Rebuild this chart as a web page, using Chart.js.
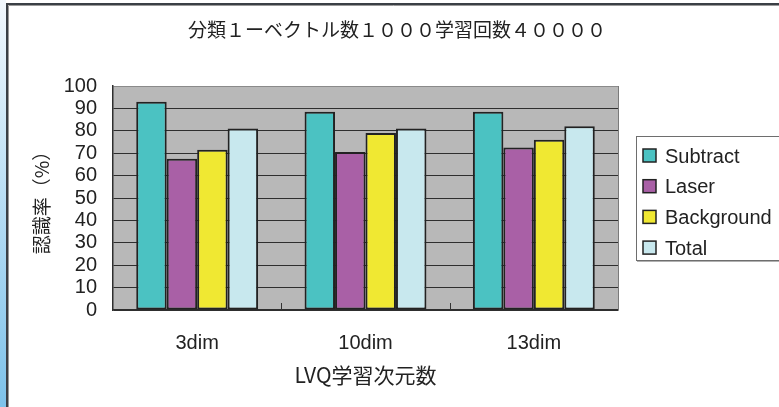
<!DOCTYPE html>
<html>
<head>
<meta charset="utf-8">
<script src="https://cdn.jsdelivr.net/npm/chart.js@4/dist/chart.umd.min.js"></script>
<style>
  html, body { margin: 0; padding: 0; background: #fff; }
  #wrap { width: 779px; height: 407px; }
</style>
</head>
<body>
<div id="wrap"><canvas id="chart" width="779" height="407"></canvas></div>
<script>
// recognition rate by LVQ dimension
var categories = ["3dim", "10dim", "13dim"];
var subtractVals = [93, 88.5, 88.5];
var laserVals = [67.5, 70.5, 72.5];
var backgroundVals = [71.5, 79, 76];
var totalVals = [81, 81, 82];
var yTicks = [0, 10, 20, 30, 40, 50, 60, 70, 80, 90, 100];

var chartTitle = "分類１ーベクトル数１０００学習回数４００００";
var xTitle = "LVQ学習次元数";
var yTitle = "認識率（%）";

var LATIN = "'Liberation Sans', Arial, 'Noto Sans CJK JP', sans-serif";
var CJK = "'Noto Sans CJK JP', 'Liberation Sans', sans-serif";
var INK = "#222";

// frame, blue edge strip, grey plot background
var backdrop = {
    id: "backdrop",
    beforeDraw: function(chart) {
        var c = chart.ctx, a = chart.chartArea;
        c.save();
        c.fillStyle = "#fff";
        c.fillRect(0, 0, chart.width, chart.height);

        var g = c.createLinearGradient(0, 0, 0, chart.height);
        g.addColorStop(0, "#f2f8fd");
        g.addColorStop(1, "#7dc2ea");
        c.fillStyle = g;
        c.fillRect(0, 0, 6, chart.height);

        c.strokeStyle = "#3a3f45";
        c.lineWidth = 2;
        c.beginPath();
        c.moveTo(7, chart.height);
        c.lineTo(7, 4);
        c.lineTo(chart.width, 4);
        c.stroke();
        c.strokeStyle = "#9a9a9a";
        c.lineWidth = 1;
        c.beginPath();
        c.moveTo(8.5, chart.height);
        c.lineTo(8.5, 5.5);
        c.lineTo(chart.width, 5.5);
        c.stroke();

        c.fillStyle = "#b8b8b8";
        c.fillRect(a.left, a.top, a.right - a.left, a.bottom - a.top);
        c.restore();
    },
    afterDatasetsDraw: function(chart) {
        var c = chart.ctx, a = chart.chartArea, xs = chart.scales.x;
        c.save();
        // right edge of the plot
        c.strokeStyle = "#7a7a7a";
        c.lineWidth = 1;
        c.beginPath();
        c.moveTo(a.right + 0.5, a.top);
        c.lineTo(a.right + 0.5, a.bottom);
        c.stroke();
        // short inside ticks between categories
        c.strokeStyle = "#333";
        for (var i = 0; i < categories.length - 1; i++) {
            var x = Math.round(xs.getPixelForValue(i + 0.5)) + 0.5;
            c.beginPath();
            c.moveTo(x, a.bottom);
            c.lineTo(x, a.bottom - 7);
            c.stroke();
        }
        c.restore();
    },
    afterDraw: function(chart) {
        var c = chart.ctx;
        c.save();
        // title
        c.fillStyle = INK;
        c.font = "19px " + CJK;
        c.textAlign = "center";
        c.textBaseline = "middle";
        c.fillText(chartTitle, 397, 30);

        // legend box
        c.strokeStyle = "#6e6e6e";
        c.lineWidth = 1;
        c.strokeRect(636.5, 136.5, 200, 124);
        c.strokeStyle = "#b0b0b0";
        c.beginPath();
        c.moveTo(637, 261.5);
        c.lineTo(chart.width, 261.5);
        c.stroke();

        c.font = "20px " + LATIN;
        c.textAlign = "left";
        chart.data.datasets.forEach(function(ds, i) {
            var y = 156 + i * 30.7;
            c.fillStyle = ds.backgroundColor;
            c.fillRect(643, y - 7, 13, 13);
            c.strokeStyle = "#222";
            c.lineWidth = 1.5;
            c.strokeRect(643, y - 7, 13, 13);
            c.fillStyle = INK;
            c.fillText(ds.label, 665, y + 1);
        });
        c.restore();
    }
};

var common = {
    borderColor: "#222",
    borderWidth: 2,
    borderSkipped: false,
    barPercentage: 1,
    categoryPercentage: 0.724
};

new Chart(document.getElementById("chart"), {
    type: "bar",
    data: {
        labels: categories,
        datasets: [
            Object.assign({ label: "Subtract", data: subtractVals, backgroundColor: "#4bc2c2" }, common),
            Object.assign({ label: "Laser", data: laserVals, backgroundColor: "#a960a6" }, common),
            Object.assign({ label: "Background", data: backgroundVals, backgroundColor: "#f0e832" }, common),
            Object.assign({ label: "Total", data: totalVals, backgroundColor: "#c8e8ee" }, common)
        ]
    },
    options: {
        responsive: false,
        animation: false,
        layout: { padding: { top: 86, right: 161, left: 0, bottom: 0 } },
        plugins: {
            legend: { display: false },
            title: { display: false },
            tooltip: { enabled: false }
        },
        scales: {
            x: {
                afterFit: function(s) { s.height = 97; },
                grid: { display: false, drawTicks: false },
                border: { display: true, color: "#2e2e2e", width: 1.5 },
                ticks: { color: INK, font: { family: LATIN, size: 20 }, padding: 21 },
                title: {
                    display: true, text: xTitle, color: INK,
                    font: { family: CJK, size: 21 },
                    padding: { top: 0, bottom: 19 }
                }
            },
            y: {
                min: 0,
                max: 100,
                afterFit: function(s) { s.width = 113; },
                afterBuildTicks: function(s) {
                    s.ticks = yTicks.map(function(v) { return { value: v }; });
                },
                grid: {
                    drawTicks: false,
                    color: function(ctx) { return ctx.tick && ctx.tick.value === 100 ? "#8a8a8a" : "#2e2e2e"; },
                    lineWidth: 1
                },
                border: { display: true, color: "#2e2e2e", width: 1.5 },
                ticks: {
                    color: INK, font: { family: LATIN, size: 20, lineHeight: 1 },
                    padding: 16, autoSkip: false
                },
                title: {
                    display: true, text: yTitle, color: INK,
                    font: { family: CJK, size: 19 },
                    padding: { top: 30, bottom: 0 }
                }
            }
        }
    },
    plugins: [backdrop]
});
</script>
</body>
</html>
